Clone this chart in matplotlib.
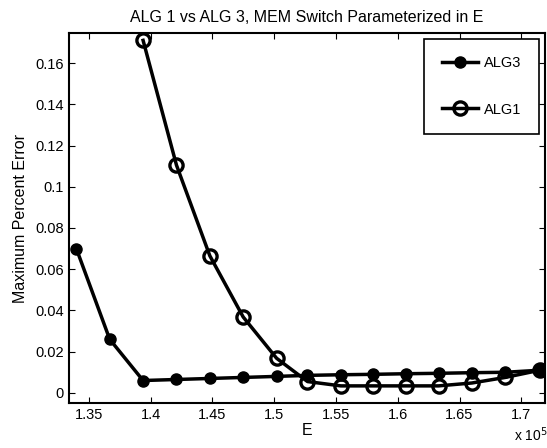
import matplotlib
matplotlib.use('Agg')
import matplotlib.pyplot as plt
from matplotlib.ticker import FuncFormatter

plt.rcParams['font.family'] = ['Liberation Sans', 'DejaVu Sans']

# E values (x 10^5)
e_alg3 = [134000, 136700, 139400, 142100, 144800, 147500, 150200, 152700,
          155400, 158000, 160700, 163300, 166000, 168700, 171500]
err_alg3 = [0.070, 0.026, 0.006, 0.0065, 0.007, 0.0075, 0.008, 0.0085,
            0.0088, 0.009, 0.0093, 0.0095, 0.0098, 0.010, 0.011]

e_alg1 = [139400, 142100, 144800, 147500, 150200, 152700, 155400, 158000,
          160700, 163300, 166000, 168700, 171500]
err_alg1 = [0.171, 0.1105, 0.0665, 0.0368, 0.0168, 0.0055, 0.0034, 0.0034,
            0.0034, 0.0034, 0.0048, 0.0075, 0.011]

xticks = [135000, 140000, 145000, 150000, 155000, 160000, 165000, 170000]
yticks = [0, 0.02, 0.04, 0.06, 0.08, 0.1, 0.12, 0.14, 0.16]

fig = plt.figure(figsize=(5.47, 4.48), dpi=100)
ax = fig.add_axes([0.126, 0.100, 0.870, 0.826])

ax.plot(e_alg3, err_alg3, color='black', lw=2.5, marker='o', ms=8,
        mfc='black', mec='black', label='ALG3')
ax.plot(e_alg1, err_alg1, color='black', lw=2.5, marker='o', ms=9.5,
        mfc='none', mec='black', mew=2.4, label='ALG1')

ax.set_xlim(133400, 171900)
ax.set_ylim(-0.005, 0.1745)
ax.set_xticks(xticks)
ax.set_yticks(yticks)
ax.xaxis.set_major_formatter(FuncFormatter(lambda v, p: '%g' % (v / 1e5)))
ax.yaxis.set_major_formatter(FuncFormatter(lambda v, p: '%g' % v))
ax.tick_params(direction='in', top=True, right=True, labelsize=10.5, length=4)
for s in ax.spines.values():
    s.set_linewidth(1.5)

ax.set_title('ALG 1 vs ALG 3, MEM Switch Parameterized in E', fontsize=11.5, pad=8)
ax.set_xlabel('E', fontsize=11.5, labelpad=1)
ax.set_ylabel('Maximum Percent Error', fontsize=11.5, labelpad=5)
fig.text(0.94, 0.008, 'x 10$^5$', fontsize=10, ha='left', va='bottom')

leg = ax.legend(loc='upper right', fontsize=10.5, handlelength=2.5,
                labelspacing=2.2, borderpad=1.2, handletextpad=0.4,
                fancybox=False, edgecolor='black', framealpha=1,
                borderaxespad=0.4)
leg.get_frame().set_linewidth(1.2)

fig.savefig('out.png', dpi=100)
